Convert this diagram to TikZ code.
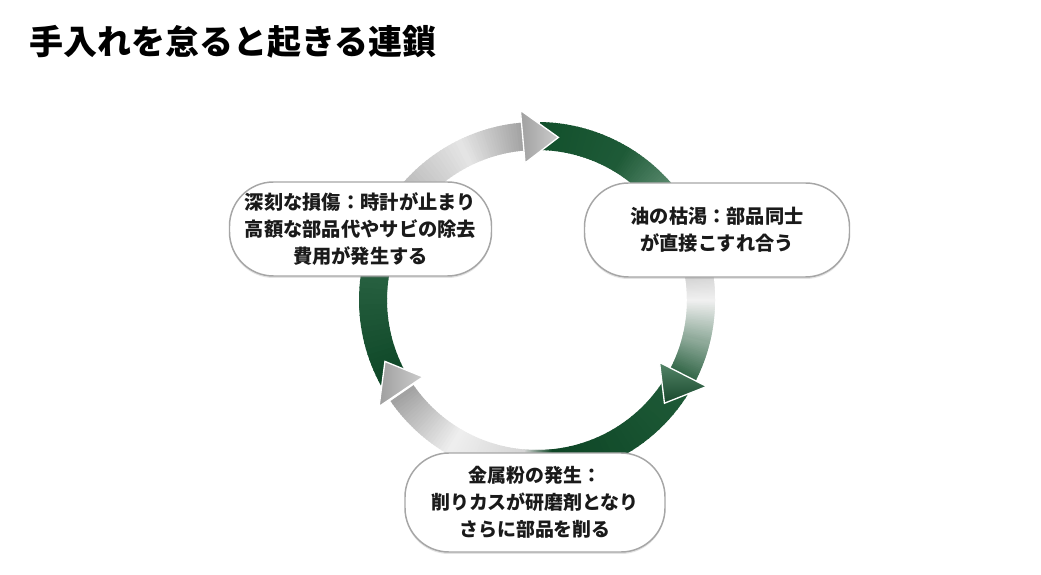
\documentclass[tikz,border=0pt]{standalone}
\usepackage{fontspec}
\setmainfont{Noto Sans CJK JP}
\usetikzlibrary{shadows}
\definecolor{boxgray}{HTML}{A6A6A6}
\definecolor{txt}{HTML}{1A1A1A}
\definecolor{grA}{HTML}{12502C}
\definecolor{grB}{HTML}{1E5A37}
\definecolor{grC}{HTML}{5A8A6E}
\definecolor{grD}{HTML}{0D4525}
\definecolor{grE}{HTML}{0E4727}
\definecolor{grF}{HTML}{2B6444}
\definecolor{grM}{HTML}{8FAA9A}
\definecolor{grN}{HTML}{2C6242}
\definecolor{lgA}{HTML}{CFCFCF}
\definecolor{lgW}{HTML}{F0F0F0}
\definecolor{gyA}{HTML}{A9A9A9}
\definecolor{gyB}{HTML}{E4E4E4}
\definecolor{gyC}{HTML}{A0A0A0}
\definecolor{gyD}{HTML}{D6D6D6}
\definecolor{gyE}{HTML}{EEEEEE}
\definecolor{gyF}{HTML}{A2A2A2}
\newcommand\gpiece[4]{%
  \foreach \gi in {0,...,23}{%
    \pgfmathsetmacro\gpA{(#1)+((#2)-(#1))*\gi/24}%
    \pgfmathsetmacro\gpB{(#1)+((#2)-(#1))*(\gi+1)/24+0.4*sign((#2)-(#1))}%
    \pgfmathtruncatemacro\gpP{100*\gi/23}%
    \fill[#4!\gpP!#3] (\gpA:150) -- (\gpA:178) -- (\gpB:178) -- (\gpB:150) -- cycle;
  }%
}
\tikzset{
  box/.style={draw=boxgray, line width=1.1pt, fill=white, rounded corners=33pt,
    align=center, inner sep=0pt, text=txt,
    drop shadow={shadow xshift=0pt, shadow yshift=-1.5pt, opacity=0.22, fill=black!50}},
  headline/.style={draw=white, line width=1pt}
}
\begin{document}
\begin{tikzpicture}[x=0.75pt,y=0.75pt]
\useasboundingbox (0,0) rectangle (1041,574);
\fill[white] (0,0) rectangle (1041,574);
\node[anchor=west, inner sep=0pt, text=black, font=\bfseries\fontsize{25.5}{30}\selectfont] (title) at (29,532) {手入れを怠ると起きる連鎖};
\begin{scope}[shift={(537,274)}]
  % top-left gray arrow body
  \gpiece{150}{116}{gyA}{gyB}
  \gpiece{116}{94}{gyB}{gyC}
  % top-right green to right node, then gray below
  \gpiece{89}{60}{grA}{grB}
  \gpiece{60}{40}{grB}{grC}
  \gpiece{40}{10}{grC}{lgA}
  \gpiece{10}{0}{lgA}{lgW}
  \gpiece{0}{-14}{lgW}{grM}
  \gpiece{-14}{-28}{grM}{grN}
  % bottom-right green
  \gpiece{-31}{-84}{grB}{grD}
  \gpiece{-84}{-95}{grD}{gyD}
  % bottom-left gray
  \gpiece{-95}{-120}{gyD}{gyE}
  \gpiece{-120}{-145}{gyE}{gyF}
  % left green
  \gpiece{-151}{-195}{grE}{grF}
  % arrow heads
  \path[headline, left color=gyA!95!black, right color=gray!40] (82.5:164) coordinate (tipT) -- (95:190.5) -- (95:137.5) -- cycle;
  \path[headline, top color=grC!90!grB, bottom color=grB!80!black] (-39:164) coordinate (tipR) -- (-27:190.5) -- (-27:137.5) -- cycle;
  \path[headline, left color=gray!75, right color=gray!40] (-158:164) coordinate (tipL) -- (-146:190.5) -- (-146:137.5) -- cycle;
\end{scope}
\node[box, minimum width=196.5pt, minimum height=70.5pt, font=\bfseries\fontsize{14.45}{20.25}\selectfont] (damage) at (360.5,345) {深刻な損傷：時計が止まり\\高額な部品代やサビの除去\\費用が発生する};
\node[box, minimum width=198.75pt, minimum height=70.5pt, font=\bfseries\fontsize{14.4}{20.25}\selectfont] (oil) at (717,344) {油の枯渇：部品同士\\が直接こすれ合う};
\node[box, minimum width=195pt, minimum height=74.25pt, font=\bfseries\fontsize{14.2}{20.25}\selectfont] (metal) at (535,71.5) {金属粉の発生：\\削りカスが研磨剤となり\\さらに部品を削る};
\end{tikzpicture}
\end{document}
